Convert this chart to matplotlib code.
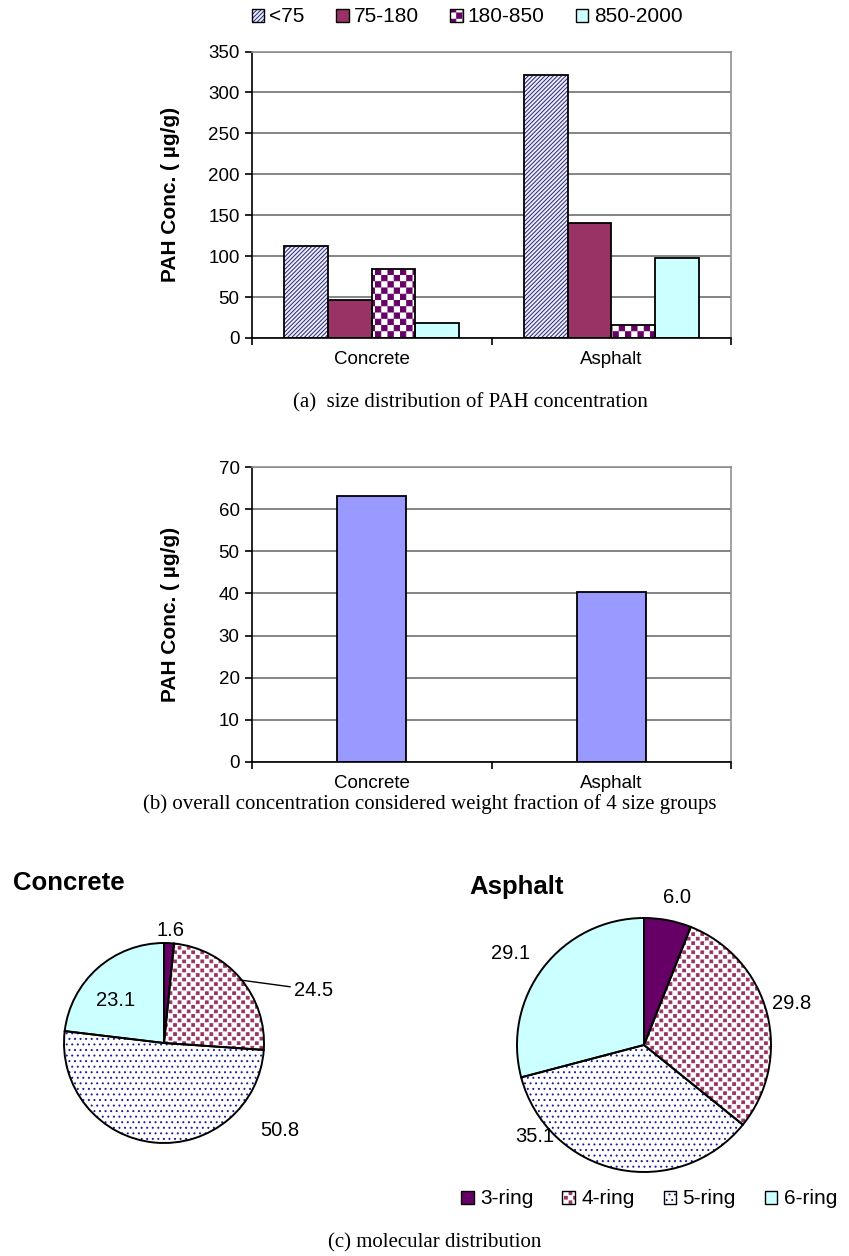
import numpy as np
import matplotlib
matplotlib.use('Agg')
import matplotlib.pyplot as plt
import matplotlib.hatch as mhatch
from matplotlib.path import Path
from matplotlib.patches import Patch
from matplotlib.legend_handler import HandlerTuple

plt.rcParams['font.family'] = ['Liberation Sans', 'DejaVu Sans']
plt.rcParams['hatch.linewidth'] = 0.7

# ---- data ----
sites = ['Concrete', 'Asphalt']
size_groups = ['<75', '75-180', '180-850', '850-2000']
conc_lt75 = [112, 321]
conc_75_180 = [46, 140]
conc_180_850 = [84, 15.5]
conc_850_2000 = [18, 98]
overall = [63.1, 40.4]

rings = ['3-ring', '4-ring', '5-ring', '6-ring']
concrete_rings = [1.6, 24.5, 50.8, 23.1]
asphalt_rings = [6.0, 29.8, 35.1, 29.1]


# square-lattice hatches (checker board / staggered small squares)
class SquareLattice(mhatch.HatchPatternBase):
    char = 'O'
    cells = 16
    fill = 0.85

    def __init__(self, hatch, density):
        self.n = hatch.count(self.char) * self.cells
        self.num_vertices = (self.n * self.n // 2) * 5

    def set_vertices_and_codes(self, vertices, codes):
        a = 1.0 / self.n
        h = 0.5 * self.fill * a
        sq = np.array([[-h, -h], [h, -h], [h, h], [-h, h], [-h, -h]])
        cen = [((i + 0.5) * a, (j + 0.5) * a) for i in range(self.n)
               for j in range(self.n) if (i + j) % 2 == 0]
        vertices[:] = np.concatenate([sq + c for c in cen])
        codes[:] = np.tile([Path.MOVETO, Path.LINETO, Path.LINETO,
                            Path.LINETO, Path.CLOSEPOLY], len(cen))


class SquareDots(SquareLattice):
    char = 'o'
    cells = 22
    fill = 0.6


mhatch._hatch_types = [SquareLattice if t is mhatch.LargeCircles else
                       SquareDots if t is mhatch.SmallCircles else t
                       for t in mhatch._hatch_types]

W, H = 849, 1256
fig = plt.figure(figsize=(W / 100, H / 100), dpi=100)


def px_axes(left, top, right, bottom):
    return fig.add_axes([left / W, 1 - bottom / H, (right - left) / W,
                         (bottom - top) / H])


def style_bar_axes(ax, ymax, step):
    ax.set_xlim(-0.5, 1.5)
    ax.set_ylim(0, ymax)
    ax.set_yticks(np.arange(0, ymax + 1, step))
    ax.set_xticks([0, 1])
    ax.set_xticklabels(sites)
    ax.set_xticks([-0.5, 0.5, 1.5], minor=True)
    ax.tick_params(axis='x', which='major', length=0, pad=9, labelsize=13.5)
    ax.tick_params(axis='x', which='minor', length=5, width=1.2, direction='out')
    ax.tick_params(axis='y', length=5, width=1.2, direction='out', labelsize=13.5, pad=4)
    ax.grid(axis='y', color='#707070', linewidth=1.2)
    ax.set_axisbelow(True)
    for s in ['top', 'right']:
        ax.spines[s].set_color('#909090')
        ax.spines[s].set_linewidth(1.2)
    for s in ['left', 'bottom']:
        ax.spines[s].set_color('black')
        ax.spines[s].set_linewidth(1.2)
    ax.set_ylabel('PAH Conc. ( µg/g)', fontsize=15, fontweight='bold')
    ax.yaxis.set_label_coords(-0.15, 0.5)


tuple_handler = {tuple: HandlerTuple(ndivide=1, pad=0)}

# ---- (a) size distribution ----
ax1 = px_axes(252, 51.5, 731, 338)
x = np.arange(len(sites))
w = 0.1825
series = [conc_lt75, conc_75_180, conc_180_850, conc_850_2000]
faces = ['#ececfa', '#993366', 'white', '#ccffff']
hcols = ['#26267a', '#993366', '#660066', '#ccffff']
hatches = ['////////', None, 'O', None]
handles_a = []
for i, vals in enumerate(series):
    xi = x + (i - 1.5) * w
    ax1.bar(xi, vals, w, color=faces[i], edgecolor=hcols[i], hatch=hatches[i],
            linewidth=0, zorder=2)
    ax1.bar(xi, vals, w, fill=False, edgecolor='black', linewidth=1.3, zorder=3)
    handles_a.append((Patch(facecolor=faces[i], edgecolor=hcols[i], hatch=hatches[i], linewidth=0),
                      Patch(fill=False, edgecolor='black', linewidth=1)))
style_bar_axes(ax1, 350, 50)
fig.legend(handles_a, size_groups, loc='center', bbox_to_anchor=(467 / W, 1 - 17 / H),
           ncol=4, frameon=False, fontsize=15, handlelength=0.6, handleheight=0.6,
           handletextpad=0.25, columnspacing=1.5, handler_map=tuple_handler)

fig.text(470 / W, 1 - 403 / H, '(a)  size distribution of PAH concentration',
         family='Liberation Serif', fontsize=15, ha='center', va='center')

# ---- (b) overall concentration ----
ax2 = px_axes(252, 467, 731, 762)
ax2.bar(x, overall, 0.287, color='#9999ff', edgecolor='black', linewidth=1.3, zorder=2)
style_bar_axes(ax2, 70, 10)
fig.text(430 / W, 1 - 804 / H,
         '(b) overall concentration considered weight fraction of 4 size groups',
         family='Liberation Serif', fontsize=15, ha='center', va='center')

# ---- (c) molecular distribution ----
pie_faces = ['#660066', 'white', 'white', '#ccffff']
pie_hcols = ['#660066', '#993366', '#1c1c9c', '#ccffff']
pie_hatches = [None, 'o', '...', None]


def draw_pie(cx, cy, r, vals, label_pos, title, title_xy):
    s = 1.25 * r
    ax = px_axes(cx - s, cy - s, cx + s, cy + s)
    wedges, _ = ax.pie(vals, startangle=90, counterclock=False,
                       wedgeprops=dict(linewidth=0))
    for wd, fc, hc, ht in zip(wedges, pie_faces, pie_hcols, pie_hatches):
        wd.set_facecolor(fc)
        wd.set_edgecolor(hc)
        wd.set_hatch(ht)
    ax.pie(vals, startangle=90, counterclock=False,
           wedgeprops=dict(fill=False, edgecolor='black', linewidth=1.4))
    for v, p in zip(vals, label_pos):
        if len(p) == 4:
            ax.annotate(f'{v:.1f}', xy=(p[2], p[3]), xytext=(p[0], p[1]),
                        ha='center', va='center', fontsize=14.5,
                        arrowprops=dict(arrowstyle='-', color='black', lw=1,
                                        shrinkA=1, shrinkB=0))
        else:
            ax.text(p[0], p[1], f'{v:.1f}', ha='center', va='center', fontsize=14.5)
    fig.text(title_xy[0] / W, 1 - title_xy[1] / H, title, fontsize=18.5,
             fontweight='bold', ha='left', va='center')
    return ax


draw_pie(164, 1043, 100, concrete_rings,
         [(0.06, 1.13), (1.50, 0.53, 0.76, 0.63), (1.16, -0.87), (-0.48, 0.42)],
         'Concrete', (13, 883))
draw_pie(644, 1045, 127, asphalt_rings,
         [(0.26, 1.16), (1.16, 0.33), (-0.86, -0.72), (-1.05, 0.72)],
         'Asphalt', (469, 887))

handles_c = [(Patch(facecolor=fc, edgecolor=hc, hatch=ht, linewidth=0),
              Patch(fill=False, edgecolor='black', linewidth=1))
             for fc, hc, ht in zip(pie_faces, pie_hcols, pie_hatches)]
fig.legend(handles_c, rings, loc='center', bbox_to_anchor=(649 / W, 1 - 1199 / H),
           ncol=4, frameon=False, fontsize=15, handlelength=0.6, handleheight=0.6,
           handletextpad=0.3, columnspacing=1.4, handler_map=tuple_handler)

fig.text(435 / W, 1 - 1243 / H, '(c) molecular distribution',
         family='Liberation Serif', fontsize=15, ha='center', va='center')

fig.savefig('out.png', dpi=100)
